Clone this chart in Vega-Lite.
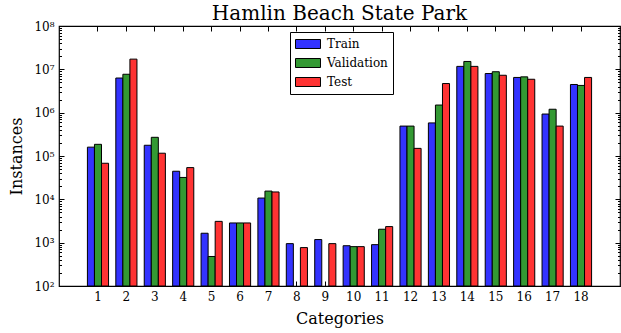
{
  "$schema": "https://vega.github.io/schema/vega-lite/v6.json",
  "width": 561,
  "height": 260,
  "autosize": "none",
  "padding": {"left": 59, "top": 26, "right": 1, "bottom": 47},
  "background": "white",
  "title": {"text": "Hamlin Beach State Park", "font": "DejaVu Serif", "fontSize": 20, "fontWeight": "normal", "color": "black", "anchor": "middle", "offset": -4},
  "config": {
    "view": {"stroke": "black", "strokeWidth": 1.2},
    "axis": {"labelFont": "DejaVu Serif", "titleFont": "DejaVu Serif", "labelColor": "black", "titleColor": "black", "titleFontWeight": "normal", "tickColor": "black", "domainColor": "black", "grid": false},
    "legend": {"labelFont": "DejaVu Serif", "labelFontSize": 12, "labelColor": "black", "strokeColor": "black"}
  },
  "data": {"values": [
    {"cat": 1, "split": "Train", "value": 160000}, {"cat": 1, "split": "Validation", "value": 186000}, {"cat": 1, "split": "Test", "value": 68000},
    {"cat": 2, "split": "Train", "value": 6300000}, {"cat": 2, "split": "Validation", "value": 7700000}, {"cat": 2, "split": "Test", "value": 17200000},
    {"cat": 3, "split": "Train", "value": 177000}, {"cat": 3, "split": "Validation", "value": 270000}, {"cat": 3, "split": "Test", "value": 116000},
    {"cat": 4, "split": "Train", "value": 44500}, {"cat": 4, "split": "Validation", "value": 32000}, {"cat": 4, "split": "Test", "value": 54000},
    {"cat": 5, "split": "Train", "value": 1650}, {"cat": 5, "split": "Validation", "value": 480}, {"cat": 5, "split": "Test", "value": 3100},
    {"cat": 6, "split": "Train", "value": 2850}, {"cat": 6, "split": "Validation", "value": 2850}, {"cat": 6, "split": "Test", "value": 2850},
    {"cat": 7, "split": "Train", "value": 10700}, {"cat": 7, "split": "Validation", "value": 15500}, {"cat": 7, "split": "Test", "value": 14800},
    {"cat": 8, "split": "Train", "value": 950}, {"cat": 8, "split": "Test", "value": 770},
    {"cat": 9, "split": "Train", "value": 1180}, {"cat": 9, "split": "Test", "value": 950},
    {"cat": 10, "split": "Train", "value": 850}, {"cat": 10, "split": "Validation", "value": 810}, {"cat": 10, "split": "Test", "value": 810},
    {"cat": 11, "split": "Train", "value": 900}, {"cat": 11, "split": "Validation", "value": 2040}, {"cat": 11, "split": "Test", "value": 2350},
    {"cat": 12, "split": "Train", "value": 490000}, {"cat": 12, "split": "Validation", "value": 490000}, {"cat": 12, "split": "Test", "value": 150000},
    {"cat": 13, "split": "Train", "value": 580000}, {"cat": 13, "split": "Validation", "value": 1500000}, {"cat": 13, "split": "Test", "value": 4700000},
    {"cat": 14, "split": "Train", "value": 11700000}, {"cat": 14, "split": "Validation", "value": 15200000}, {"cat": 14, "split": "Test", "value": 11700000},
    {"cat": 15, "split": "Train", "value": 8000000}, {"cat": 15, "split": "Validation", "value": 8800000}, {"cat": 15, "split": "Test", "value": 7300000},
    {"cat": 16, "split": "Train", "value": 6500000}, {"cat": 16, "split": "Validation", "value": 6700000}, {"cat": 16, "split": "Test", "value": 5900000},
    {"cat": 17, "split": "Train", "value": 930000}, {"cat": 17, "split": "Validation", "value": 1200000}, {"cat": 17, "split": "Test", "value": 490000},
    {"cat": 18, "split": "Train", "value": 4470000}, {"cat": 18, "split": "Validation", "value": 4250000}, {"cat": 18, "split": "Test", "value": 6500000}
  ]},
  "layer": [
    {
      "mark": {"type": "bar", "stroke": "black", "strokeWidth": 1},
      "encoding": {
        "x": {"field": "cat", "type": "ordinal", "scale": {"paddingInner": 0.256, "paddingOuter": 1.06},
              "axis": {"orient": "bottom", "title": "Categories", "titleFontSize": 16, "titlePadding": 8, "labelFontSize": 12, "labelAngle": 0, "labelPadding": 5, "ticks": false, "domain": false}},
        "xOffset": {"field": "split", "type": "nominal", "scale": {"domain": ["Train", "Validation", "Test"], "paddingInner": 0, "paddingOuter": 0}},
        "y": {"field": "value", "type": "quantitative", "scale": {"type": "log", "domain": [100, 100000000], "nice": false},
              "axis": {"orient": "left", "title": "Instances", "titleFontSize": 16, "titlePadding": 9, "labelFontSize": 12, "labelPadding": 5, "ticks": false, "domain": false,
                       "values": [100, 1000, 10000, 100000, 1000000, 10000000, 100000000],
                       "labelExpr": "datum.value >= 1e8 ? '10⁸' : datum.value >= 1e7 ? '10⁷' : datum.value >= 1e6 ? '10⁶' : datum.value >= 1e5 ? '10⁵' : datum.value >= 1e4 ? '10⁴' : datum.value >= 1e3 ? '10³' : '10²'"}},
        "y2": {"datum": 100},
        "color": {"field": "split", "type": "nominal",
                  "scale": {"domain": ["Train", "Validation", "Test"], "range": ["#3333ff", "#339933", "#ff3333"]},
                  "legend": {"title": null, "orient": "none", "legendX": 231, "legendY": 6, "direction": "vertical",
                             "symbolType": "M-2,-0.72H2V0.72H-2Z", "symbolSize": 156, "symbolStrokeColor": "black", "symbolStrokeWidth": 1, "symbolOpacity": 1,
                             "symbolOffset": 6, "labelOffset": 12, "rowPadding": 5, "padding": 5,
                             "strokeColor": "black", "fillColor": "white"}}
      }
    },
    {
      "mark": {"type": "bar", "opacity": 0},
      "encoding": {
        "x": {"field": "cat", "type": "ordinal", "axis": {"orient": "bottom", "title": null, "labels": false, "domain": false, "tickSize": -5, "tickWidth": 1}},
        "y": {"field": "value", "type": "quantitative", "axis": {"orient": "left", "title": null, "labels": false, "domain": false, "tickSize": -5, "tickWidth": 1,
              "values": [100, 1000, 10000, 100000, 1000000, 10000000, 100000000]}}
      }
    },
    {
      "mark": {"type": "bar", "opacity": 0},
      "encoding": {
        "x": {"field": "cat", "type": "ordinal", "axis": {"orient": "top", "title": null, "labels": false, "domain": false, "tickSize": -5, "tickWidth": 1}},
        "y": {"field": "value", "type": "quantitative", "axis": {"orient": "left", "title": null, "labels": false, "domain": false, "tickSize": -2.5, "tickWidth": 1,
              "values": [200,300,400,500,600,700,800,900,2000,3000,4000,5000,6000,7000,8000,9000,20000,30000,40000,50000,60000,70000,80000,90000,200000,300000,400000,500000,600000,700000,800000,900000,2000000,3000000,4000000,5000000,6000000,7000000,8000000,9000000,20000000,30000000,40000000,50000000,60000000,70000000,80000000,90000000]}}
      }
    },
    {
      "mark": {"type": "bar", "opacity": 0},
      "encoding": {
        "x": {"field": "cat", "type": "ordinal", "axis": null},
        "y": {"field": "value", "type": "quantitative", "axis": {"orient": "right", "title": null, "labels": false, "domain": false, "tickSize": -5, "tickWidth": 1,
              "values": [100, 1000, 10000, 100000, 1000000, 10000000, 100000000]}}
      }
    },
    {
      "mark": {"type": "bar", "opacity": 0},
      "encoding": {
        "x": {"field": "cat", "type": "ordinal", "axis": null},
        "y": {"field": "value", "type": "quantitative", "axis": {"orient": "right", "title": null, "labels": false, "domain": false, "tickSize": -2.5, "tickWidth": 1,
              "values": [200,300,400,500,600,700,800,900,2000,3000,4000,5000,6000,7000,8000,9000,20000,30000,40000,50000,60000,70000,80000,90000,200000,300000,400000,500000,600000,700000,800000,900000,2000000,3000000,4000000,5000000,6000000,7000000,8000000,9000000,20000000,30000000,40000000,50000000,60000000,70000000,80000000,90000000]}}
      }
    }
  ],
  "resolve": {"axis": {"x": "independent", "y": "independent"}}
}
